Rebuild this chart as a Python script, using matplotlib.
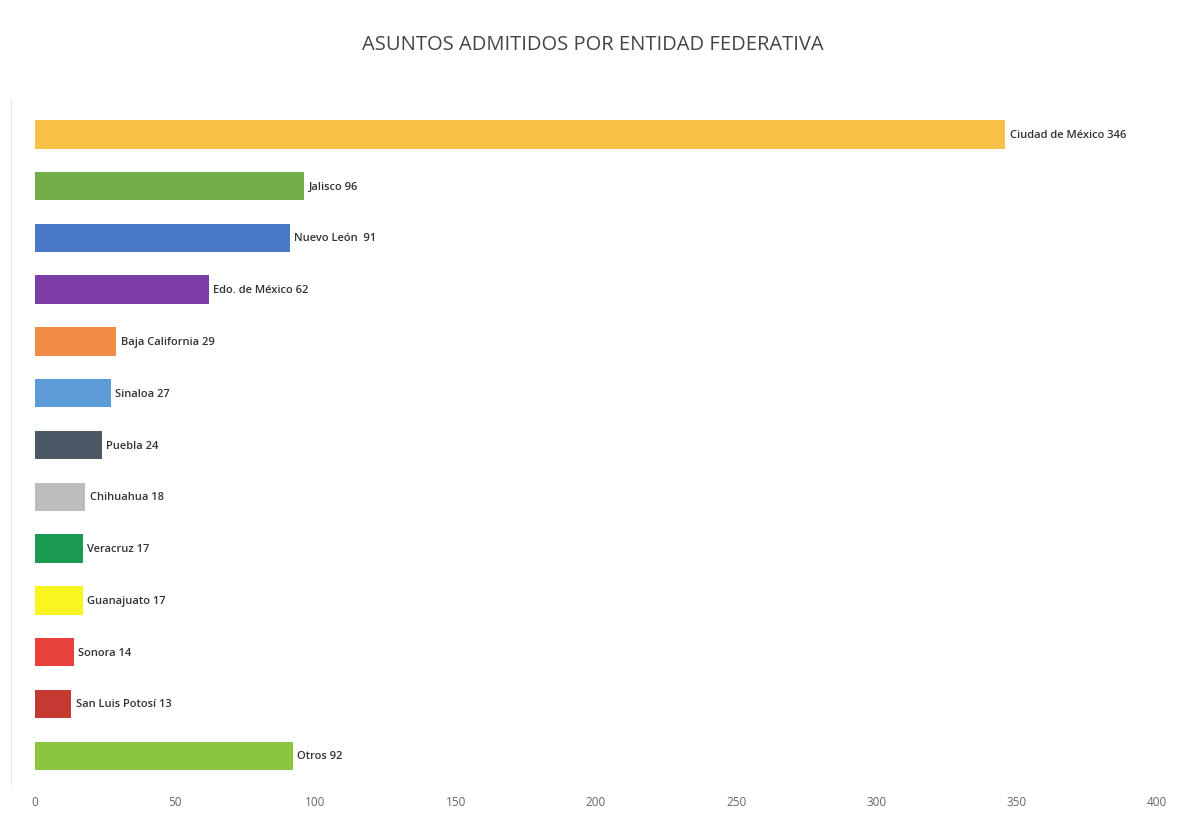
import numpy as np
import matplotlib.pyplot as plt

plt.rcParams['font.family'] = ['Open Sans', 'DejaVu Sans']

# datos
entidades = ['Ciudad de México', 'Jalisco', 'Nuevo León ', 'Edo. de México', 'Baja California',
             'Sinaloa', 'Puebla', 'Chihuahua', 'Veracruz', 'Guanajuato', 'Sonora',
             'San Luis Potosí', 'Otros']
asuntos = [346, 96, 91, 62, 29, 27, 24, 18, 17, 17, 14, 13, 92]
colores = ['#F6C144', '#72AE48', '#4A78C8', '#7A3EA6', '#F08C45', '#5E9CD8', '#4B5866',
           '#BDBDBD', '#1A9A50', '#F8F520', '#E8403A', '#C43A33', '#8CC540']

fig = plt.figure(figsize=(11.85, 8.2), dpi=100)
ax = fig.add_axes([0.0295, 0.043, 0.9468, 0.835])

y = np.arange(len(entidades))
ax.barh(y, asuntos, height=0.55, color=colores)

for i in range(len(entidades)):
    ax.text(asuntos[i] + 1.5, y[i], f'{entidades[i]} {asuntos[i]}', va='center', ha='left',
            fontsize=8, fontweight='semibold', color='#333333')

ax.set_xlim(0, 400)
ax.set_ylim(12.54, -0.68)
ax.set_xticks(np.arange(0, 401, 50))
ax.set_yticks([])
ax.tick_params(axis='x', length=0, pad=8, labelsize=8.5, labelcolor='#666666')
for s in ['top', 'right', 'bottom']:
    ax.spines[s].set_visible(False)
ax.spines['left'].set_position(('outward', 17))
ax.spines['left'].set_color('#E4E4E4')

fig.text(0.5, 0.945, 'ASUNTOS ADMITIDOS POR ENTIDAD FEDERATIVA', ha='center', va='center',
         fontsize=14.5, color='#444444')

plt.savefig('out.png', dpi=100)
